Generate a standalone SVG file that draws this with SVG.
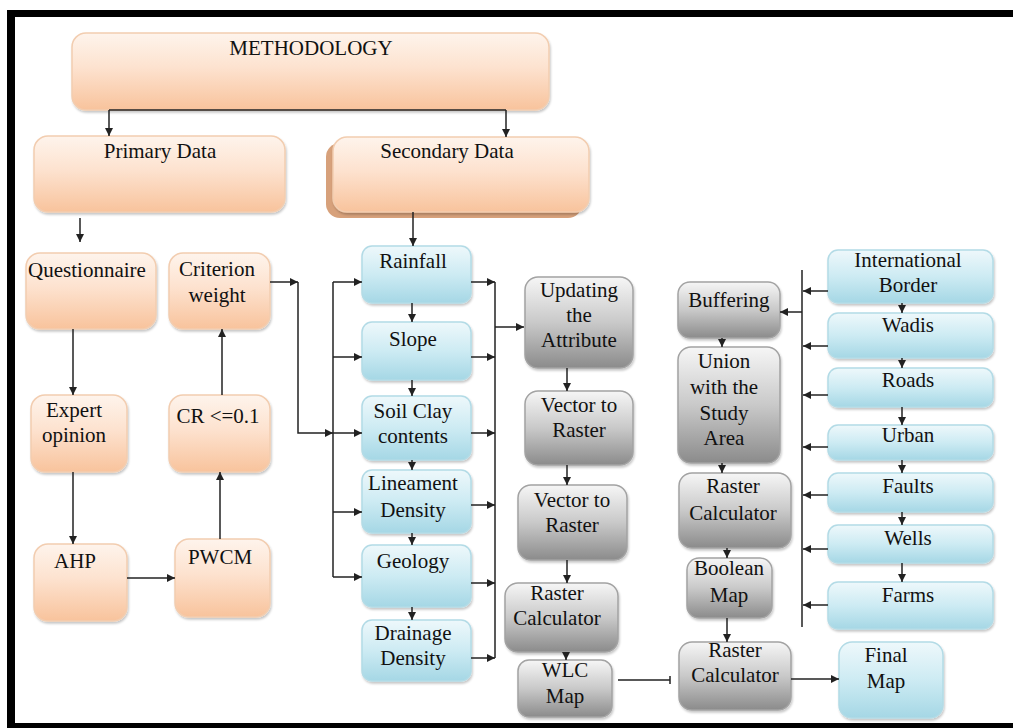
<svg xmlns="http://www.w3.org/2000/svg" width="1013" height="728" viewBox="0 0 1013 728">
<defs>
<linearGradient id="gOr" x1="0" y1="0" x2="0" y2="1"><stop offset="0" stop-color="#fef4ec"/><stop offset="0.45" stop-color="#fde2cf"/><stop offset="1" stop-color="#f8c39c"/></linearGradient>
<linearGradient id="gBl" x1="0" y1="0" x2="0" y2="1"><stop offset="0" stop-color="#eef8fb"/><stop offset="0.5" stop-color="#cdebf3"/><stop offset="1" stop-color="#a5d7e5"/></linearGradient>
<linearGradient id="gGr" x1="0" y1="0" x2="0" y2="1"><stop offset="0" stop-color="#f6f6f6"/><stop offset="0.5" stop-color="#c9c9c9"/><stop offset="1" stop-color="#8b8b8b"/></linearGradient>
<filter id="sh" x="-10%" y="-10%" width="120%" height="130%"><feDropShadow dx="1" dy="2" stdDeviation="1.2" flood-color="#000" flood-opacity="0.22"/></filter>
<marker id="ah" markerUnits="userSpaceOnUse" markerWidth="8" markerHeight="8" refX="8" refY="4" orient="auto"><path d="M0,0 L8,4 L0,8 z" fill="#222"/></marker>
</defs>
<style>
.or{fill:url(#gOr);stroke:#f2cdb0;stroke-width:1.5;filter:url(#sh)}
.bl{fill:url(#gBl);stroke:#b3dbe6;stroke-width:1.5;filter:url(#sh)}
.gr{fill:url(#gGr);stroke:#a3a3a3;stroke-width:1.5;filter:url(#sh)}
text{font-family:"Liberation Serif","Times New Roman",serif;font-size:21px;fill:#111;text-anchor:middle}
.c{fill:none;stroke:#222;stroke-width:1.5}
.a{fill:none;stroke:#222;stroke-width:1.5;marker-end:url(#ah)}
</style>
<rect x="0" y="0" width="1013" height="728" fill="#fff"/>
<g id="frame" fill="#000">
<rect x="7" y="10" width="1006" height="7"/>
<rect x="7" y="10" width="8" height="718"/>
<rect x="7" y="723" width="1006" height="5"/>
</g>

<g id="methodology"><rect class="or" x="72" y="33" width="477" height="77" rx="14"/><text x="311" y="55">METHODOLOGY</text></g>
<g id="primary"><rect class="or" x="34" y="136" width="251" height="76" rx="14"/><text x="160" y="158">Primary Data</text></g>
<g id="secondary"><rect x="326" y="143" width="256" height="75" rx="14" fill="#d7a17b"/><rect class="or" x="333" y="137" width="256" height="75" rx="14"/><text x="447" y="158">Secondary Data</text></g>
<g id="questionnaire"><rect class="or" x="26" y="253" width="130" height="76" rx="14"/><text x="87" y="277">Questionnaire</text></g>
<g id="criterion"><rect class="or" x="169" y="253" width="101" height="76" rx="14"/><text x="217" y="276">Criterion</text><text x="217" y="302">weight</text></g>
<g id="expert"><rect class="or" x="31" y="395" width="96" height="77" rx="14"/><text x="74" y="417">Expert</text><text x="74" y="442">opinion</text></g>
<g id="cr"><rect class="or" x="169" y="395" width="101" height="77" rx="14"/><text x="218" y="423">CR &lt;=0.1</text></g>
<g id="ahp"><rect class="or" x="34" y="544" width="93" height="77" rx="14"/><text x="75" y="568">AHP</text></g>
<g id="pwcm"><rect class="or" x="175" y="539" width="95" height="78" rx="14"/><text x="220" y="564">PWCM</text></g>

<g id="rainfall"><rect class="bl" x="362" y="246" width="109" height="57" rx="10"/><text x="413" y="268">Rainfall</text></g>
<g id="slope"><rect class="bl" x="362" y="322" width="109" height="58" rx="10"/><text x="413" y="346">Slope</text></g>
<g id="soil"><rect class="bl" x="362" y="396" width="109" height="64" rx="10"/><text x="413" y="418">Soil Clay</text><text x="413" y="443">contents</text></g>
<g id="lineament"><rect class="bl" x="362" y="470" width="109" height="63" rx="10"/><text x="413" y="490">Lineament</text><text x="413" y="517">Density</text></g>
<g id="geology"><rect class="bl" x="362" y="545" width="109" height="62" rx="10"/><text x="413" y="568">Geology</text></g>
<g id="drainage"><rect class="bl" x="362" y="620" width="109" height="61" rx="10"/><text x="413" y="640">Drainage</text><text x="413" y="665">Density</text></g>

<g id="updating"><rect class="gr" x="525" y="277" width="108" height="91" rx="13"/><text x="579" y="297">Updating</text><text x="579" y="322">the</text><text x="579" y="347">Attribute</text></g>
<g id="vector1"><rect class="gr" x="525" y="391" width="108" height="74" rx="13"/><text x="579" y="412">Vector to</text><text x="579" y="437">Raster</text></g>
<g id="vector2"><rect class="gr" x="518" y="485" width="109" height="75" rx="13"/><text x="572" y="507">Vector to</text><text x="572" y="532">Raster</text></g>
<g id="rastercalc1"><rect class="gr" x="505" y="583" width="113" height="69" rx="13"/><text x="557" y="600">Raster</text><text x="557" y="625">Calculator</text></g>
<g id="wlc"><rect class="gr" x="518" y="660" width="94" height="57" rx="11"/><text x="565" y="677">WLC</text><text x="565" y="703">Map</text></g>

<g id="buffering"><rect class="gr" x="678" y="282" width="102" height="56" rx="12"/><text x="729" y="307">Buffering</text></g>
<g id="union"><rect class="gr" x="678" y="347" width="102" height="116" rx="13"/><text x="724" y="368">Union</text><text x="724" y="394">with the</text><text x="724" y="420">Study</text><text x="724" y="445">Area</text></g>
<g id="rastercalc2"><rect class="gr" x="679" y="473" width="112" height="75" rx="13"/><text x="733" y="493">Raster</text><text x="733" y="520">Calculator</text></g>
<g id="boolean"><rect class="gr" x="687" y="558" width="85" height="60" rx="12"/><text x="729" y="575">Boolean</text><text x="729" y="602">Map</text></g>
<g id="rastercalc3"><rect class="gr" x="679" y="642" width="112" height="68" rx="13"/><text x="735" y="657">Raster</text><text x="735" y="682">Calculator</text></g>

<g id="intl"><rect class="bl" x="828" y="250" width="165" height="53" rx="10"/><text x="908" y="267">International</text><text x="908" y="292">Border</text></g>
<g id="wadis"><rect class="bl" x="828" y="313" width="165" height="45" rx="10"/><text x="908" y="332">Wadis</text></g>
<g id="roads"><rect class="bl" x="828" y="368" width="165" height="39" rx="10"/><text x="908" y="387">Roads</text></g>
<g id="urban"><rect class="bl" x="828" y="425" width="165" height="35" rx="10"/><text x="908" y="442">Urban</text></g>
<g id="faults"><rect class="bl" x="828" y="473" width="165" height="39" rx="10"/><text x="908" y="493">Faults</text></g>
<g id="wells"><rect class="bl" x="828" y="525" width="165" height="38" rx="10"/><text x="908" y="545">Wells</text></g>
<g id="farms"><rect class="bl" x="828" y="582" width="165" height="47" rx="10"/><text x="908" y="602">Farms</text></g>
<g id="final"><rect class="bl" x="839" y="642" width="104" height="76" rx="13"/><text x="886" y="662">Final</text><text x="886" y="688">Map</text></g>

<g id="connectors">
<path class="c" d="M109,110 H506"/>
<path class="a" d="M109,110 V136"/>
<path class="a" d="M506,110 V137"/>
<path class="a" d="M80,218 V242"/>
<path class="a" d="M413,212 V246"/>
<path class="a" d="M73,329 V395"/>
<path class="a" d="M73,472 V544"/>
<path class="a" d="M127,578 H175"/>
<path class="a" d="M220,539 V472"/>
<path class="a" d="M222,395 V329"/>
<path class="a" d="M270,282 H298"/>
<path class="a" d="M298,282 V433 H333"/>
<path class="a" d="M333,433 H362"/>
<path class="c" d="M333,282 V577"/>
<path class="a" d="M333,282 H362"/>
<path class="a" d="M333,357 H362"/>
<path class="a" d="M333,512 H362"/>
<path class="a" d="M333,577 H362"/>
<path class="a" d="M412,303 V322"/>
<path class="a" d="M412,380 V396"/>
<path class="a" d="M412,460 V470"/>
<path class="a" d="M412,533 V545"/>
<path class="a" d="M412,607 V620"/>
<path class="a" d="M471,282 H495"/>
<path class="a" d="M471,357 H495"/>
<path class="a" d="M471,433 H495"/>
<path class="a" d="M471,505 H495"/>
<path class="a" d="M471,583 H495"/>
<path class="a" d="M471,658 H495"/>
<path class="c" d="M495,282 V658"/>
<path class="a" d="M495,327 H524"/>
<path class="a" d="M567,368 V391"/>
<path class="a" d="M567,465 V485"/>
<path class="a" d="M567,560 V583"/>
<path class="a" d="M566,652 V660"/>
<path class="c" d="M618,680 H670 M670,676 V684"/>
<path class="c" d="M802,270 V627"/>
<path class="a" d="M828,291 H803"/>
<path class="a" d="M828,346 H803"/>
<path class="a" d="M828,395 H803"/>
<path class="a" d="M828,447 H803"/>
<path class="a" d="M828,495 H803"/>
<path class="a" d="M828,549 H803"/>
<path class="a" d="M828,605 H803"/>
<path class="a" d="M802,312 H780"/>
<path class="a" d="M902,303 V313"/>
<path class="a" d="M902,358 V368"/>
<path class="a" d="M902,407 V425"/>
<path class="a" d="M902,460 V473"/>
<path class="a" d="M902,512 V525"/>
<path class="a" d="M902,563 V582"/>
<path class="a" d="M722,338 V347"/>
<path class="a" d="M722,463 V473"/>
<path class="a" d="M727,548 V558"/>
<path class="a" d="M727,618 V642"/>
<path class="a" d="M791,679 H839"/>
</g>
</svg>
